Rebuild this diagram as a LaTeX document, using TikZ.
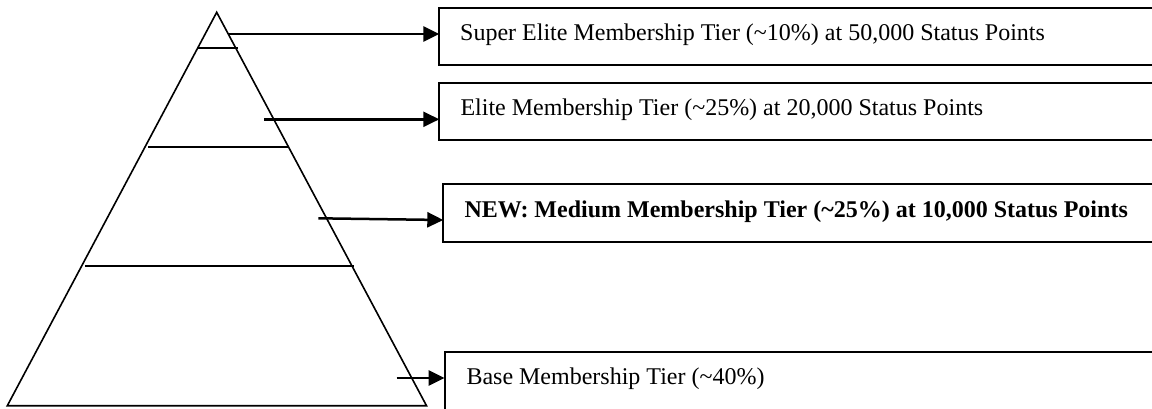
\documentclass[tikz,border=0pt]{standalone}
\usepackage{fontspec}
\setmainfont{Liberation Serif}
\usetikzlibrary{arrows.meta}
\begin{document}
\begin{tikzpicture}[x=1pt,y=-1pt,
  edge/.style={line width=1.6pt, line join=miter},
  tier/.style={line width=1.8pt},
  box/.style={draw, line width=2pt, rectangle, inner sep=0pt, outer sep=0pt, anchor=north west},
  lbl/.style={anchor=base west, inner sep=0pt, font=\fontsize{24}{28}\selectfont},
  arr/.style={line width=2.5pt, -{Triangle[length=16pt,width=15pt]}}]
\useasboundingbox (0,0) rectangle (1152,408);
\clip (0,0) rectangle (1152,408);
% pyramid
\coordinate (apex) at (216.7,12.3);
\coordinate (bl) at (7.3,405.7);
\coordinate (br) at (426.5,405.7);
\draw[edge] (apex) -- (bl) -- (br) -- cycle;
\coordinate (h1a) at (198.3,48.3); \coordinate (h1b) at (238.3,48.3);
\coordinate (h2a) at (148.3,147); \coordinate (h2b) at (288.3,147);
\coordinate (h3a) at (85,266); \coordinate (h3b) at (354,266);
\draw[tier] (h1a) -- (h1b);
\draw[tier] (h2a) -- (h2b);
\draw[tier] (h3a) -- (h3b);
% boxes
\node[box, minimum width=720pt, minimum height=57pt] (b1) at (439.3,8) {};
\node[box, minimum width=720pt, minimum height=56.7pt] (b2) at (439.3,83.3) {};
\node[box, minimum width=716pt, minimum height=57.4pt] (b3) at (443.3,184.3) {};
\node[box, minimum width=715pt, minimum height=62pt] (b4) at (444.6,351.5) {};
% texts
\node[lbl] (t1) at (460,40.5) {Super Elite Membership Tier (\textasciitilde10\%) at 50,000 Status Points};
\node[lbl] (t2) at (460.3,115.7) {Elite Membership Tier (\textasciitilde25\%) at 20,000 Status Points};
\node[lbl, font=\fontsize{24}{28}\selectfont\bfseries] (t3) at (464.3,217.7) {NEW: Medium Membership Tier (\textasciitilde25\%) at 10,000 Status Points};
\node[lbl] (t4) at (466.3,384) {Base Membership Tier (\textasciitilde40\%)};
% arrows
\coordinate (s1) at (229,34);
\coordinate (s2) at (264.3,119.3);
\coordinate (s3) at (318.3,218.3);
\coordinate (e3) at (443.3,220);
\coordinate (s4) at (396.7,378);
\draw[arr] (s1) -- (b1.west |- s1);
\draw[arr] (s2) -- (b2.west |- s2);
\draw[arr] (s3) -- (b3.west |- e3);
\draw[arr] (s4) -- (b4.west |- s4);
\end{tikzpicture}
\end{document}
